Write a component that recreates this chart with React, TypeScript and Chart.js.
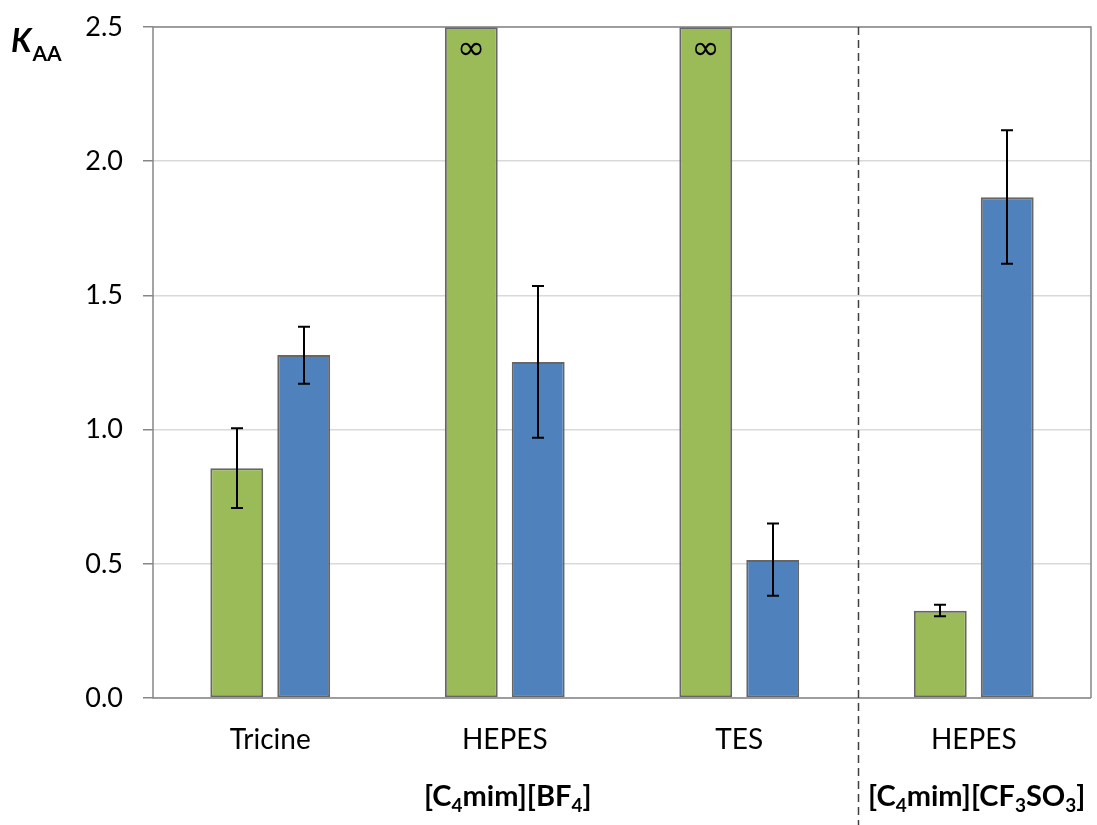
import React, { useEffect, useRef } from 'react';
import { Chart, registerables } from 'chart.js';

Chart.register(...registerables);

const categories = ['Tricine', 'HEPES', 'TES', 'HEPES'];
const greenValues = [0.856, Infinity, Infinity, 0.325];
const greenErrLow: (number | null)[] = [0.708, null, null, 0.305];
const greenErrHigh: (number | null)[] = [1.005, null, null, 0.347];
const blueValues = [1.278, 1.252, 0.514, 1.866];
const blueErrLow: (number | null)[] = [1.171, 0.97, 0.381, 1.618];
const blueErrHigh: (number | null)[] = [1.383, 1.535, 0.65, 2.115];
const yTicks = [0, 0.5, 1.0, 1.5, 2.0, 2.5];
const Y_MIN = 0;
const Y_MAX = 2.5;
const STEP = 0.5;
// group labels: [text, isSubscript] parts, centred on category index
const groupLabels: { parts: [string, boolean][]; center: number }[] = [
  { parts: [['[C', false], ['4', true], ['mim][BF', false], ['4', true], [']', false]], center: 1 },
  { parts: [['[C', false], ['4', true], ['mim][CF', false], ['3', true], ['SO', false], ['3', true], [']', false]], center: 3 },
];
const dividerAfter = 2; // dashed separator between category 2 and 3

const GREEN = '#9BBB59';
const BLUE = '#4F81BD';
const BAR_BORDER = '#666666';
const AXIS = '#868686';
const FONT = 'Lato, "Open Sans", sans-serif';

const W = 1097;
const H = 825;

export default function App() {
  const ref = useRef<HTMLCanvasElement | null>(null);

  useEffect(() => {
    document.body.style.margin = '0';
    const canvas = ref.current;
    if (!canvas) return;

    const clipInf = (v: number) => (isFinite(v) ? v : Y_MAX);

    const overlay = {
      id: 'overlay',
      afterDatasetsDraw(chart: any) {
        const ctx = chart.ctx as CanvasRenderingContext2D;
        const { left, right, top, bottom } = chart.chartArea;
        const ys = chart.scales.y;
        const xs = chart.scales.x;
        ctx.save();
        // frame
        ctx.strokeStyle = AXIS;
        ctx.lineWidth = 1.5;
        ctx.beginPath();
        ctx.moveTo(left, top);
        ctx.lineTo(right, top);
        ctx.lineTo(right, bottom);
        ctx.moveTo(left, top);
        ctx.lineTo(left, bottom);
        ctx.lineTo(right, bottom);
        ctx.stroke();

        // dashed divider
        const dx = Math.round((xs.getPixelForValue(dividerAfter) + xs.getPixelForValue(dividerAfter + 1)) / 2) + 1.5;
        ctx.strokeStyle = '#404040';
        ctx.lineWidth = 1.5;
        ctx.setLineDash([8, 5]);
        ctx.beginPath();
        ctx.moveTo(dx, top);
        ctx.lineTo(dx, H);
        ctx.stroke();
        ctx.setLineDash([]);

        // error bars
        const errs = [
          [greenErrLow, greenErrHigh],
          [blueErrLow, blueErrHigh],
        ];
        ctx.strokeStyle = '#000';
        ctx.lineWidth = 2;
        errs.forEach(([lo, hi], di) => {
          const meta = chart.getDatasetMeta(di);
          meta.data.forEach((bar: any, i: number) => {
            const l = lo[i];
            const h = hi[i];
            if (l == null || h == null) return;
            const x = Math.round(bar.x);
            const yl = ys.getPixelForValue(l);
            const yh = ys.getPixelForValue(h);
            ctx.beginPath();
            ctx.moveTo(x, yl);
            ctx.lineTo(x, yh);
            ctx.moveTo(x - 6, yl);
            ctx.lineTo(x + 6, yl);
            ctx.moveTo(x - 6, yh);
            ctx.lineTo(x + 6, yh);
            ctx.stroke();
          });
        });

        // infinity marks
        ctx.fillStyle = '#000';
        ctx.font = '34px "DejaVu Sans"';
        ctx.textAlign = 'center';
        ctx.textBaseline = 'middle';
        [greenValues, blueValues].forEach((vals, di) => {
          const meta = chart.getDatasetMeta(di);
          vals.forEach((v, i) => {
            if (!isFinite(v)) {
              ctx.fillText('\u221E', meta.data[i].x, top + 23);
            }
          });
        });

        // group labels
        ctx.textAlign = 'left';
        ctx.textBaseline = 'alphabetic';
        const big = `bold 29px ${FONT}`;
        const small = `bold 19px ${FONT}`;
        groupLabels.forEach((g) => {
          let total = 0;
          g.parts.forEach(([t, sub]) => {
            ctx.font = sub ? small : big;
            total += ctx.measureText(t).width;
          });
          let x = xs.getPixelForValue(g.center) - total / 2 + 3;
          const base = 806;
          g.parts.forEach(([t, sub]) => {
            ctx.font = sub ? small : big;
            ctx.fillText(t, x, sub ? base + 6 : base);
            x += ctx.measureText(t).width;
          });
        });

        // y axis title K_AA
        ctx.font = `italic bold 32px ${FONT}`;
        ctx.fillText('K', 11, 52);
        const kw = ctx.measureText('K').width;
        ctx.font = `bold 21px ${FONT}`;
        ctx.fillText('AA', 11 + kw + 1, 61);
        ctx.restore();
      },
    };

    const chart = new Chart(canvas, {
      type: 'bar',
      data: {
        labels: categories,
        datasets: [
          {
            label: 'green',
            data: greenValues.map(clipInf),
            backgroundColor: GREEN,
            borderColor: BAR_BORDER,
            borderWidth: 2,
            borderSkipped: false,
            categoryPercentage: 0.571,
            barPercentage: 0.79,
          },
          {
            label: 'blue',
            data: blueValues.map(clipInf),
            backgroundColor: BLUE,
            borderColor: BAR_BORDER,
            borderWidth: 2,
            borderSkipped: false,
            categoryPercentage: 0.571,
            barPercentage: 0.79,
          },
        ],
      },
      options: {
        responsive: false,
        animation: false,
        devicePixelRatio: 1,
        layout: { padding: { left: 0, top: 27, right: 6, bottom: 0 } },
        plugins: {
          legend: { display: false },
          tooltip: { enabled: false },
        },
        scales: {
          x: {
            grid: { display: false, drawTicks: false },
            border: { display: false },
            ticks: {
              color: '#000',
              font: { family: FONT, size: 28 },
              padding: 25,
              maxRotation: 0,
            },
            afterFit: (s: any) => {
              s.height = 127;
              s.paddingLeft = 0;
              s.paddingRight = 0;
            },
          },
          y: {
            min: Y_MIN,
            max: Y_MAX,
            afterBuildTicks: (s: any) => {
              s.ticks = yTicks.map((v) => ({ value: v }));
            },
            grid: {
              color: '#d9d9d9',
              lineWidth: 1.5,
              tickColor: AXIS,
              tickLength: 10,
            },
            border: { display: false },
            ticks: {
              stepSize: STEP,
              color: '#000',
              font: { family: FONT, size: 27 },
              padding: 20,
              callback: (v: any) => Number(v).toFixed(1),
            },
            afterFit: (s: any) => {
              s.width = 153;
              s.paddingTop = 0;
              s.paddingBottom = 0;
            },
          },
        },
      },
      plugins: [overlay],
    });

    return () => chart.destroy();
  }, []);

  return (
    <div style={{ width: W, height: H, background: '#fff' }}>
      <canvas ref={ref} width={W} height={H} style={{ display: 'block' }} />
    </div>
  );
}
